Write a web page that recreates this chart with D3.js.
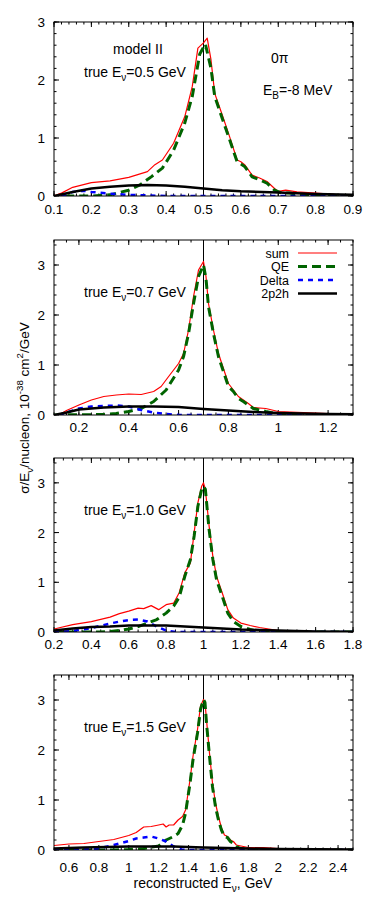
<!DOCTYPE html>
<html>
<head>
<meta charset="utf-8">
<script src="https://cdn.jsdelivr.net/npm/d3@7"></script>
<style>
  body { margin: 0; background: #fff; }
  text { font-family: "Liberation Sans", Arial, sans-serif; fill: #000; }
</style>
</head>
<body>
<div id="chart"></div>
<script>
// true neutrino energy for each panel and its axis ranges
const trueE = [0.5, 0.7, 1.0, 1.5];
const xDomains = [[0.1, 0.9], [0.1, 1.3], [0.2, 1.8], [0.5, 2.5]];
const yMax = [3, 3.5, 3.5, 3.5];
const xMajor = [
  [0.1, 0.2, 0.3, 0.4, 0.5, 0.6, 0.7, 0.8, 0.9],
  [0.2, 0.4, 0.6, 0.8, 1, 1.2],
  [0.2, 0.4, 0.6, 0.8, 1, 1.2, 1.4, 1.6, 1.8],
  [0.6, 0.8, 1, 1.2, 1.4, 1.6, 1.8, 2, 2.2, 2.4]
];
const xMinorStep = [0.02, 0.05, 0.05, 0.05];
const yMajor = [0, 1, 2, 3];
const seriesNames = ["sum", "QE", "Delta", "2p2h"];

// panel 1 : true E = 0.5 GeV   [E_rec, sigma]
const p1Sum = [[0.1,0],[0.12,0.05],[0.15,0.15],[0.2,0.23],[0.25,0.26],[0.3,0.32],[0.35,0.42],[0.37,0.54],[0.39,0.62],[0.42,0.91],[0.45,1.37],[0.47,1.89],[0.485,2.55],[0.5,2.64],[0.51,2.72],[0.52,2.35],[0.53,1.77],[0.55,1.4],[0.57,1.02],[0.59,0.62],[0.6,0.59],[0.61,0.54],[0.63,0.36],[0.65,0.31],[0.67,0.25],[0.69,0.13],[0.7,0.08],[0.72,0.1],[0.75,0.07],[0.8,0.05],[0.85,0.03],[0.9,0.02]];
const p1QE = [[0.13,0],[0.2,0],[0.25,0.02],[0.3,0.1],[0.33,0.19],[0.36,0.33],[0.39,0.48],[0.42,0.79],[0.45,1.26],[0.47,1.72],[0.49,2.45],[0.505,2.62],[0.52,2.2],[0.53,1.72],[0.55,1.34],[0.57,0.97],[0.59,0.59],[0.61,0.51],[0.63,0.33],[0.65,0.28],[0.67,0.22],[0.69,0.1],[0.71,0.05],[0.73,0.05],[0.76,0.02],[0.8,0.01],[0.9,0]];
const p1Delta = [[0.12,0],[0.15,0.07],[0.18,0.09],[0.2,0.07],[0.25,0.04],[0.3,0.02],[0.35,0.01],[0.4,0],[0.9,0]];
const p1MEC = [[0.1,0],[0.15,0.07],[0.2,0.13],[0.25,0.16],[0.3,0.18],[0.35,0.19],[0.4,0.18],[0.45,0.16],[0.5,0.13],[0.55,0.1],[0.6,0.08],[0.7,0.06],[0.8,0.035],[0.9,0.02]];

// panel 2 : true E = 0.7 GeV
const p2Sum = [[0.12,0],[0.15,0.09],[0.2,0.2],[0.25,0.3],[0.3,0.37],[0.35,0.4],[0.4,0.42],[0.45,0.41],[0.5,0.47],[0.53,0.57],[0.56,0.77],[0.6,1.03],[0.62,1.23],[0.64,1.7],[0.66,2.37],[0.68,2.9],[0.7,3.07],[0.71,2.77],[0.72,2.23],[0.74,1.7],[0.76,1.23],[0.78,0.93],[0.8,0.63],[0.82,0.5],[0.84,0.37],[0.86,0.3],[0.88,0.23],[0.9,0.15],[0.95,0.13],[1.0,0.07],[1.1,0.05],[1.2,0.03],[1.3,0.02]];
const p2QE = [[0.1,0],[0.3,0.01],[0.35,0.03],[0.4,0.07],[0.45,0.13],[0.5,0.27],[0.55,0.5],[0.6,0.9],[0.62,1.17],[0.64,1.63],[0.66,2.23],[0.68,2.77],[0.7,3.0],[0.71,2.73],[0.72,2.17],[0.74,1.63],[0.76,1.17],[0.78,0.87],[0.8,0.57],[0.82,0.47],[0.84,0.33],[0.86,0.27],[0.88,0.2],[0.9,0.13],[0.95,0.07],[1.0,0.02],[1.1,0],[1.3,0]];
const p2Delta = [[0.12,0],[0.2,0.13],[0.25,0.17],[0.3,0.18],[0.35,0.19],[0.4,0.17],[0.45,0.1],[0.5,0.05],[0.55,0.02],[0.6,0],[1.3,0]];
const p2MEC = [[0.1,0],[0.15,0.05],[0.2,0.11],[0.3,0.15],[0.4,0.17],[0.5,0.17],[0.6,0.16],[0.7,0.12],[0.8,0.09],[0.9,0.06],[1.0,0.04],[1.1,0.03],[1.2,0.02],[1.3,0.015]];

// panel 3 : true E = 1.0 GeV
const p3Sum = [[0.2,0.06],[0.3,0.15],[0.4,0.21],[0.5,0.3],[0.55,0.37],[0.6,0.42],[0.65,0.48],[0.68,0.47],[0.72,0.53],[0.76,0.45],[0.8,0.55],[0.84,0.58],[0.87,0.79],[0.9,1.19],[0.93,1.39],[0.95,2.0],[0.97,2.6],[0.99,2.93],[1.0,3.0],[1.01,2.87],[1.03,2.13],[1.05,1.52],[1.07,1.12],[1.1,0.79],[1.13,0.45],[1.16,0.28],[1.2,0.18],[1.25,0.13],[1.3,0.09],[1.35,0.06],[1.4,0.03],[1.5,0.02],[1.6,0.01],[1.8,0.01]];
const p3QE = [[0.2,0],[0.45,0],[0.5,0.01],[0.55,0.03],[0.6,0.06],[0.65,0.11],[0.7,0.18],[0.75,0.25],[0.8,0.38],[0.84,0.52],[0.87,0.7],[0.9,1.12],[0.93,1.46],[0.95,1.93],[0.97,2.53],[0.99,2.87],[1.0,2.93],[1.01,2.87],[1.03,2.06],[1.05,1.46],[1.07,1.05],[1.1,0.72],[1.13,0.38],[1.16,0.21],[1.2,0.11],[1.25,0.05],[1.3,0.01],[1.4,0],[1.8,0]];
const p3Delta = [[0.2,0],[0.3,0.02],[0.4,0.08],[0.5,0.17],[0.55,0.21],[0.6,0.24],[0.65,0.25],[0.7,0.21],[0.75,0.11],[0.8,0.03],[0.85,0],[1.8,0]];
const p3MEC = [[0.2,0.03],[0.3,0.07],[0.4,0.1],[0.5,0.11],[0.6,0.13],[0.7,0.13],[0.8,0.13],[0.9,0.11],[1.0,0.09],[1.1,0.07],[1.2,0.05],[1.3,0.04],[1.4,0.03],[1.6,0.01],[1.8,0.005]];

// panel 4 : true E = 1.5 GeV
const p4Sum = [[0.5,0.09],[0.6,0.12],[0.7,0.13],[0.8,0.17],[0.9,0.21],[1.0,0.29],[1.05,0.35],[1.1,0.46],[1.15,0.47],[1.2,0.5],[1.23,0.52],[1.25,0.46],[1.27,0.5],[1.3,0.5],[1.33,0.6],[1.36,0.67],[1.38,0.8],[1.41,1.41],[1.43,1.88],[1.46,2.41],[1.48,2.88],[1.5,3.01],[1.51,2.95],[1.52,2.61],[1.54,1.94],[1.56,1.34],[1.58,0.94],[1.6,0.67],[1.62,0.44],[1.64,0.3],[1.66,0.27],[1.68,0.2],[1.7,0.17],[1.72,0.1],[1.75,0.08],[1.8,0.05],[1.9,0.05],[2.0,0.03],[2.2,0.02],[2.5,0.01]];
const p4QE = [[0.5,0],[0.9,0],[1.0,0.01],[1.1,0.03],[1.2,0.08],[1.25,0.2],[1.3,0.27],[1.33,0.33],[1.36,0.5],[1.38,0.74],[1.41,1.34],[1.43,1.81],[1.46,2.34],[1.48,2.81],[1.5,3.01],[1.51,2.95],[1.52,2.54],[1.54,1.88],[1.56,1.27],[1.58,0.87],[1.6,0.6],[1.62,0.4],[1.64,0.27],[1.66,0.25],[1.68,0.17],[1.7,0.13],[1.72,0.07],[1.75,0.03],[1.8,0.01],[2.0,0],[2.5,0]];
const p4Delta = [[0.5,0],[0.7,0.01],[0.8,0.03],[0.9,0.1],[1.0,0.18],[1.05,0.23],[1.1,0.25],[1.15,0.27],[1.2,0.23],[1.25,0.17],[1.3,0.07],[1.35,0.01],[1.4,0],[2.5,0]];
const p4MEC = [[0.5,0.03],[0.7,0.05],[1.0,0.07],[1.3,0.07],[1.5,0.05],[1.8,0.03],[2.0,0.02],[2.5,0.01]];

const panelData = [
  [p1Sum, p1QE, p1Delta, p1MEC],
  [p2Sum, p2QE, p2Delta, p2MEC],
  [p3Sum, p3QE, p3Delta, p3MEC],
  [p4Sum, p4QE, p4Delta, p4MEC]
];

const styles = [
  { color: "#ff0000", width: 1.2, dash: null },
  { color: "#006400", width: 3, dash: "9,5" },
  { color: "#0000ff", width: 2.5, dash: "5,5" },
  { color: "#000000", width: 2.5, dash: null }
];

const W = 374, H = 907;
const left = 54, right = 353;
const tops = [22, 240, 458, 675];
const bottoms = [196, 415, 632, 850];
const labelDy = [18, 17, 17, 22];
const fs = 13.5;

const svg = d3.select("#chart").append("svg")
  .attr("width", W)
  .attr("height", H);

function fmt(v) {
  return String(+v.toFixed(2));
}

for (let p = 0; p < 4; p++) {
  let x = d3.scaleLinear().domain(xDomains[p]).range([left, right]);
  let y = d3.scaleLinear().domain([0, yMax[p]]).range([bottoms[p], tops[p]]);
  let g = svg.append("g");

  g.append("clipPath").attr("id", "clip" + p)
    .append("rect")
    .attr("x", left).attr("y", tops[p])
    .attr("width", right - left).attr("height", bottoms[p] - tops[p]);

  // x ticks, mirrored on top
  let xMinor = d3.range(xDomains[p][0], xDomains[p][1] + 1e-9, xMinorStep[p]);
  xMinor.forEach(v => {
    g.append("line").attr("x1", x(v)).attr("x2", x(v))
      .attr("y1", bottoms[p]).attr("y2", bottoms[p] - 2.5)
      .attr("stroke", "#000").attr("stroke-width", 1);
    g.append("line").attr("x1", x(v)).attr("x2", x(v))
      .attr("y1", tops[p]).attr("y2", tops[p] + 2.5)
      .attr("stroke", "#000").attr("stroke-width", 1);
  });
  xMajor[p].forEach(v => {
    g.append("line").attr("x1", x(v)).attr("x2", x(v))
      .attr("y1", bottoms[p]).attr("y2", bottoms[p] - 5)
      .attr("stroke", "#000").attr("stroke-width", 1);
    g.append("line").attr("x1", x(v)).attr("x2", x(v))
      .attr("y1", tops[p]).attr("y2", tops[p] + 5)
      .attr("stroke", "#000").attr("stroke-width", 1);
    g.append("text")
      .attr("x", x(v))
      .attr("y", bottoms[p] + labelDy[p])
      .attr("text-anchor", "middle")
      .attr("font-size", fs)
      .text(fmt(v));
  });

  // y ticks, mirrored on the right
  let yMinor = d3.range(0, yMax[p] + 1e-9, 0.2);
  yMinor.forEach(v => {
    g.append("line").attr("x1", left).attr("x2", left + 2.5)
      .attr("y1", y(v)).attr("y2", y(v))
      .attr("stroke", "#000").attr("stroke-width", 1);
    g.append("line").attr("x1", right).attr("x2", right - 2.5)
      .attr("y1", y(v)).attr("y2", y(v))
      .attr("stroke", "#000").attr("stroke-width", 1);
  });
  yMajor.forEach(v => {
    g.append("line").attr("x1", left).attr("x2", left + 5)
      .attr("y1", y(v)).attr("y2", y(v))
      .attr("stroke", "#000").attr("stroke-width", 1);
    g.append("line").attr("x1", right).attr("x2", right - 5)
      .attr("y1", y(v)).attr("y2", y(v))
      .attr("stroke", "#000").attr("stroke-width", 1);
    g.append("text")
      .attr("x", left - 9)
      .attr("y", y(v) + 5)
      .attr("text-anchor", "end")
      .attr("font-size", fs)
      .text(v);
  });

  // vertical line at the true energy
  g.append("line")
    .attr("x1", x(trueE[p])).attr("x2", x(trueE[p]))
    .attr("y1", tops[p]).attr("y2", bottoms[p])
    .attr("stroke", "#000").attr("stroke-width", 1);

  let line = d3.line().x(d => x(d[0])).y(d => y(d[1]));

  panelData[p].forEach((ser, i) => {
    let st = styles[i];
    g.append("path")
      .datum(ser)
      .attr("d", line)
      .attr("clip-path", "url(#clip" + p + ")")
      .attr("fill", "none")
      .attr("stroke", st.color)
      .attr("stroke-width", st.width)
      .attr("stroke-dasharray", st.dash)
      .attr("stroke-linejoin", "round");
  });

  // frame
  g.append("rect")
    .attr("x", left).attr("y", tops[p])
    .attr("width", right - left).attr("height", bottoms[p] - tops[p])
    .attr("fill", "none").attr("stroke", "#000").attr("stroke-width", 1);

  // "true E_nu = ..." label
  let t = g.append("text")
    .attr("x", 84)
    .attr("y", tops[p] + (p == 0 ? 55 : 57))
    .attr("font-size", 14);
  t.append("tspan").text("true E");
  t.append("tspan").attr("dy", 4).attr("font-size", 10).text("ν");
  t.append("tspan").attr("dy", -4).text("=" + trueE[p].toFixed(1) + " GeV");
}

// panel 1 extra annotations
svg.append("text").attr("x", 138).attr("y", 54)
  .attr("text-anchor", "middle").attr("font-size", 14).text("model II");
svg.append("text").attr("x", 271).attr("y", 63)
  .attr("font-size", 14).text("0π");
let eb = svg.append("text").attr("x", 263).attr("y", 95).attr("font-size", 14);
eb.append("tspan").text("E");
eb.append("tspan").attr("dy", 4).attr("font-size", 10).text("B");
eb.append("tspan").attr("dy", -4).text("=-8 MeV");

// legend in panel 2
const legendY = [253, 266.5, 280, 293.5];
seriesNames.forEach((name, i) => {
  let st = styles[i];
  svg.append("text")
    .attr("x", 289).attr("y", legendY[i] + 4.5)
    .attr("text-anchor", "end").attr("font-size", 12.5)
    .text(name);
  svg.append("line")
    .attr("x1", 298).attr("x2", 337)
    .attr("y1", legendY[i]).attr("y2", legendY[i])
    .attr("stroke", st.color)
    .attr("stroke-width", st.width)
    .attr("stroke-dasharray", st.dash);
});

// y axis title
let yl = svg.append("text")
  .attr("transform", "translate(29,408) rotate(-90)")
  .attr("text-anchor", "middle")
  .attr("font-size", fs);
yl.append("tspan").text("σ/E");
yl.append("tspan").attr("dy", 4).attr("font-size", fs * 0.72).text("ν");
yl.append("tspan").attr("dy", -4).text("/nucleon, 10");
yl.append("tspan").attr("dy", -6).attr("font-size", fs * 0.72).text("-38");
yl.append("tspan").attr("dy", 6).text(" cm");
yl.append("tspan").attr("dy", -6).attr("font-size", fs * 0.72).text("2");
yl.append("tspan").attr("dy", 6).text("/GeV");

// x axis title
let xl = svg.append("text")
  .attr("x", 203).attr("y", 888)
  .attr("text-anchor", "middle")
  .attr("font-size", 14);
xl.append("tspan").text("reconstructed  E");
xl.append("tspan").attr("dy", 4).attr("font-size", 10).text("ν");
xl.append("tspan").attr("dy", -4).text(", GeV");
</script>
</body>
</html>
